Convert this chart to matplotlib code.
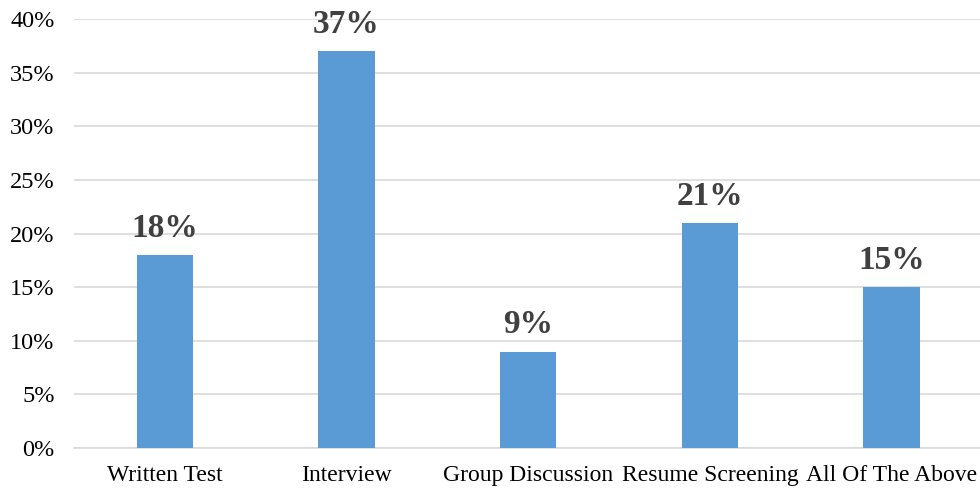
import matplotlib.pyplot as plt
from matplotlib.ticker import FuncFormatter

# данные
categories = ['Written Test', 'Interview', 'Group Discussion', 'Resume Screening', 'All Of The Above']
values = [18, 37, 9, 21, 15]
y_ticks = [0, 5, 10, 15, 20, 25, 30, 35, 40]

plt.rcParams['font.family'] = ['Liberation Serif', 'DejaVu Serif']

fig = plt.figure(figsize=(9.8, 4.94), dpi=100)
ax = fig.add_axes([0.0755, 0.093, 0.927, 0.8685])

x = range(len(categories))
bars = ax.bar(x, values, width=0.31, color='#5B9BD5', zorder=3)

for rect, v in zip(bars, values):
    ax.annotate(f'{v}%', (rect.get_x() + rect.get_width() / 2, v),
                xytext=(0, 8), textcoords='offset points',
                ha='center', va='bottom', fontsize=24, fontweight='bold',
                color='#404040', zorder=4)

ax.set_xlim(-0.5, len(categories) - 0.5)
ax.set_ylim(0, 40)
ax.set_yticks(y_ticks)
ax.yaxis.set_major_formatter(FuncFormatter(lambda v, p: f'{int(v)}%'))
ax.set_xticks(list(x))
ax.set_xticklabels(categories)

ax.grid(axis='y', color='#D9D9D9', linewidth=1.2, zorder=0)
for s in ['top', 'right', 'left']:
    ax.spines[s].set_visible(False)
ax.spines['bottom'].set_color('#D9D9D9')
ax.spines['bottom'].set_linewidth(1.2)
ax.tick_params(axis='both', length=0, colors='black')
ax.tick_params(axis='y', pad=14, labelsize=17.5)
ax.tick_params(axis='x', pad=12, labelsize=17)

fig.savefig('out.png', dpi=100)
